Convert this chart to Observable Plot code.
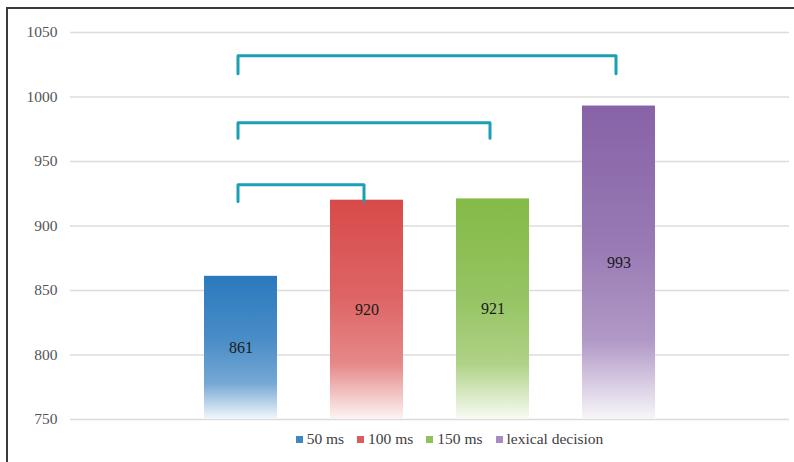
<!DOCTYPE html>
<html>
<head>
<meta charset="utf-8">
<script src="https://cdn.jsdelivr.net/npm/d3@7"></script>
<script src="https://cdn.jsdelivr.net/npm/@observablehq/plot@0.6"></script>
<style>
  html, body { margin: 0; padding: 0; background: #fff; width: 794px; height: 462px; overflow: hidden; }
  #wrap { position: relative; width: 794px; height: 462px; }
  #frame { position: absolute; left: 6px; top: 7px; width: 800px; height: 470px;
           border-top: 2px solid #3a3a3a; border-left: 2px solid #3a3a3a; pointer-events: none; }
  #chart { position: absolute; left: 0; top: 0; }
  #legend { position: absolute; left: 0; top: 430px; width: 794px; box-sizing: border-box; padding-left: 105px;
            display: flex; justify-content: center; align-items: center; gap: 13px;
            font-family: "Liberation Serif", serif; font-size: 15.5px; color: #404040; }
  .item { display: flex; align-items: center; gap: 4px; }
  .sw { width: 7px; height: 7px; display: inline-block; }
</style>
</head>
<body>
<div id="wrap">
  <div id="chart"></div>
  <div id="legend"></div>
  <div id="frame"></div>
</div>
<script>
// ---- data ----
const series = ["50 ms", "100 ms", "150 ms", "lexical decision"];
const values = [861, 920, 921, 993];
const colors = ["#2a79bd", "#d84a4a", "#84ba47", "#8762a7"];
const swatchColors = ["#3d87c6", "#e05a5a", "#8fc25a", "#a78cc3"];
const yTicks = [750, 800, 850, 900, 950, 1000, 1050];
const baseline = 750;
// significance brackets: from series, to series, leg bottom value, top value
const bracketFrom = ["50 ms", "50 ms", "50 ms"];
const bracketTo = ["100 ms", "150 ms", "lexical decision"];
const bracketLow = [919, 968, 1018];
const bracketHigh = [932, 980, 1032];

const rows = series.map((s, i) => ({series: s, value: values[i], idx: i}));
const bracketPts = bracketFrom.flatMap((f, i) => [
  {b: i, x: f, y: bracketLow[i]},
  {b: i, x: f, y: bracketHigh[i]},
  {b: i, x: bracketTo[i], y: bracketHigh[i]},
  {b: i, x: bracketTo[i], y: bracketLow[i]}
]);

const serif = "'Liberation Serif', serif";

const chart = Plot.plot({
  width: 794,
  height: 430,
  marginLeft: 70,
  marginRight: 5,
  marginTop: 32,
  marginBottom: 11,
  style: {fontFamily: serif, background: "transparent"},
  x: {domain: series, paddingInner: 0.419, paddingOuter: 1.055, axis: null},
  y: {domain: [750, 1050], ticks: yTicks},
  marks: [
    Plot.gridY(yTicks, {stroke: "#dcdcdc", strokeOpacity: 1, strokeWidth: 1.6}),
    Plot.axisY(yTicks, {tickSize: 0, tickPadding: 13, fontSize: 15.5, fill: "#555", fontFamily: serif, tickFormat: d3.format("d")}),
    ...rows.map((r, i) => Plot.barY([r], {x: "series", y1: baseline, y2: "value", fill: `url(#grad${i})`})),
    Plot.text(rows, {x: "series", y: d => (d.value + baseline) / 2, text: d => String(d.value), fontSize: 16, fill: "#1a1a1a", fontFamily: serif}),
    Plot.line(bracketPts, {x: "x", y: "y", z: "b", stroke: "#1a9fb4", strokeWidth: 3, strokeLinejoin: "round", strokeLinecap: "round", dx: -3})
  ]
});

// gradient defs
const svg = d3.select(chart);
const defs = svg.insert("defs", ":first-child");
colors.forEach((c, i) => {
  const g = defs.append("linearGradient").attr("id", `grad${i}`).attr("x1", 0).attr("y1", 0).attr("x2", 0).attr("y2", 1);
  const mix = (t) => d3.interpolateRgb(c, "#ffffff")(t);
  g.append("stop").attr("offset", "0%").attr("stop-color", c);
  g.append("stop").attr("offset", "45%").attr("stop-color", mix(0.15));
  g.append("stop").attr("offset", "75%").attr("stop-color", mix(0.35));
  g.append("stop").attr("offset", "100%").attr("stop-color", mix(0.94));
});

document.getElementById("chart").appendChild(chart);

// legend
const legend = d3.select("#legend");
series.forEach((s, i) => {
  const it = legend.append("div").attr("class", "item");
  it.append("span").attr("class", "sw").style("background", swatchColors[i]);
  it.append("span").text(s);
});
</script>
</body>
</html>
